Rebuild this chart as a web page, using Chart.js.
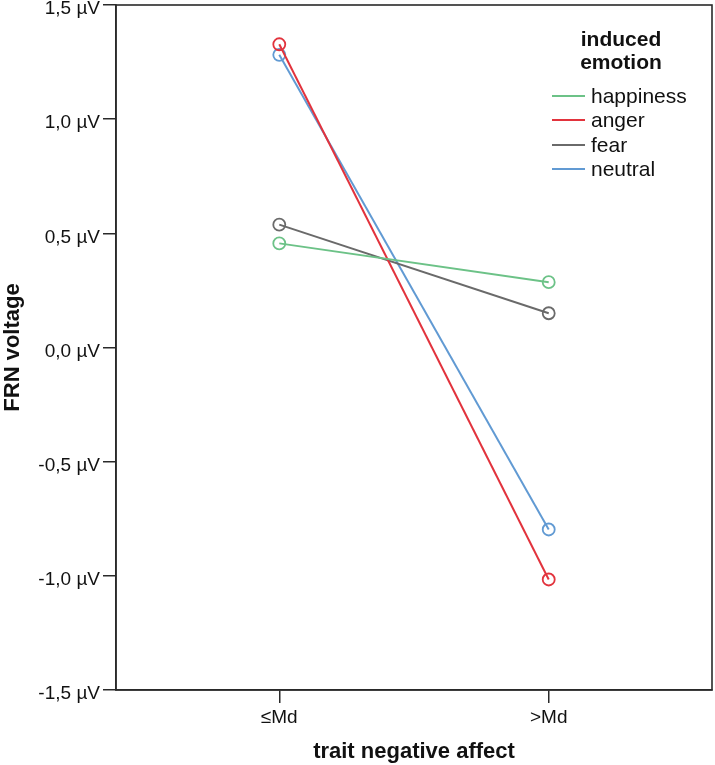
<!DOCTYPE html>
<html>
<head>
<meta charset="utf-8">
<script src="https://cdn.jsdelivr.net/npm/chart.js@4"></script>
<style>
  html, body { margin: 0; padding: 0; background: #fff; }
  #wrap { width: 715px; height: 765px; }
</style>
</head>
<body>
<div id="wrap"><canvas id="frnChart" width="715" height="765"></canvas></div>
<script>
// trait negative affect groups
const categories = ["≤Md", ">Md"];
const yTicks = [-1.5, -1.0, -0.5, 0.0, 0.5, 1.0, 1.5];

// FRN voltage per induced emotion
const happiness = [0.456, 0.286];
const anger = [1.328, -1.016];
const fear = [0.538, 0.150];
const neutral = [1.282, -0.797];

const seriesNames = ["happiness", "anger", "fear", "neutral"];
const seriesColors = ["#6cc287", "#e2333d", "#6a6a6a", "#619ad3"];
const seriesData = [happiness, anger, fear, neutral];

const FONT = "'Liberation Sans', Arial, sans-serif";

function toPoints(values) {
    return values.map((v, i) => ({ x: i, y: v }));
}

// frame + legend drawn on top of the chart area
const framePlugin = {
    id: "frame",
    afterDraw(chart) {
        const { ctx, chartArea } = chart;
        ctx.save();
        ctx.strokeStyle = "#2a2a2a";
        ctx.lineWidth = 1.6;
        ctx.strokeRect(chartArea.left, chartArea.top, chartArea.right - chartArea.left, chartArea.bottom - chartArea.top);

        // legend
        const cx = 621;
        ctx.fillStyle = "#111";
        ctx.textAlign = "center";
        ctx.textBaseline = "middle";
        ctx.font = "bold 21px " + FONT;
        ctx.fillText("induced", cx, 40);
        ctx.fillText("emotion", cx, 63);
        ctx.textAlign = "left";
        ctx.font = "21px " + FONT;
        const rows = [96, 120, 145, 169];
        seriesNames.forEach((name, i) => {
            ctx.strokeStyle = seriesColors[i];
            ctx.lineWidth = 2;
            ctx.beginPath();
            ctx.moveTo(552, rows[i]);
            ctx.lineTo(585, rows[i]);
            ctx.stroke();
            ctx.fillStyle = "#111";
            ctx.fillText(name, 591, rows[i] + 1);
        });
        ctx.restore();
    }
};

const ctx = document.getElementById("frnChart").getContext("2d");

const frnChart = new Chart(ctx, {
    type: "line",
    data: {
        datasets: seriesNames.map((name, i) => ({
            label: name,
            data: toPoints(seriesData[i]),
            borderColor: seriesColors[i],
            backgroundColor: "rgba(0,0,0,0)",
            borderWidth: 2,
            pointRadius: 6,
            pointBorderWidth: 1.8,
            pointBackgroundColor: "rgba(0,0,0,0)",
            pointBorderColor: seriesColors[i],
            tension: 0,
            fill: false,
        })),
    },
    options: {
        responsive: false,
        animation: false,
        layout: { autoPadding: false, padding: { top: 5, right: 3, left: 0, bottom: 0 } },
        plugins: {
            legend: { display: false },
            tooltip: { enabled: false },
        },
        scales: {
            x: {
                type: "linear",
                min: -0.606,
                max: 1.606,
                afterBuildTicks: (scale) => {
                    scale.ticks = categories.map((c, i) => ({ value: i }));
                },
                afterFit: (scale) => {
                    scale.height = 75;
                    scale.paddingLeft = 0;
                    scale.paddingRight = 0;
                },
                grid: { display: true, drawOnChartArea: false, tickLength: 13, color: "#2a2a2a", lineWidth: 1.5 },
                border: { display: true, color: "#2a2a2a", width: 1.6 },
                ticks: {
                    color: "#111",
                    font: { family: FONT, size: 19 },
                    padding: 3,
                    maxRotation: 0,
                    callback: (v) => categories[v],
                },
                title: {
                    display: true,
                    text: "trait negative affect",
                    color: "#111",
                    font: { family: FONT, size: 22, weight: "bold" },
                    padding: { top: 7, bottom: 0 },
                },
            },
            y: {
                min: -1.5,
                max: 1.5,
                afterBuildTicks: (scale) => {
                    scale.ticks = yTicks.map((v) => ({ value: v }));
                },
                afterFit: (scale) => {
                    scale.width = 116;
                    scale.paddingTop = 0;
                    scale.paddingBottom = 0;
                },
                grid: { display: true, drawOnChartArea: false, tickLength: 13, color: "#2a2a2a", lineWidth: 1.5 },
                border: { display: true, color: "#2a2a2a", width: 1.6 },
                ticks: {
                    color: "#111",
                    font: { family: FONT, size: 19 },
                    padding: 3,
                    labelOffset: 4,
                    callback: (v) => v.toFixed(1).replace(".", ",") + " µV",
                },
                title: {
                    display: true,
                    text: "FRN voltage",
                    color: "#111",
                    font: { family: FONT, size: 22, weight: "bold" },
                    padding: { top: 0, bottom: 0 },
                },
            },
        },
    },
    plugins: [framePlugin],
});
</script>
</body>
</html>
